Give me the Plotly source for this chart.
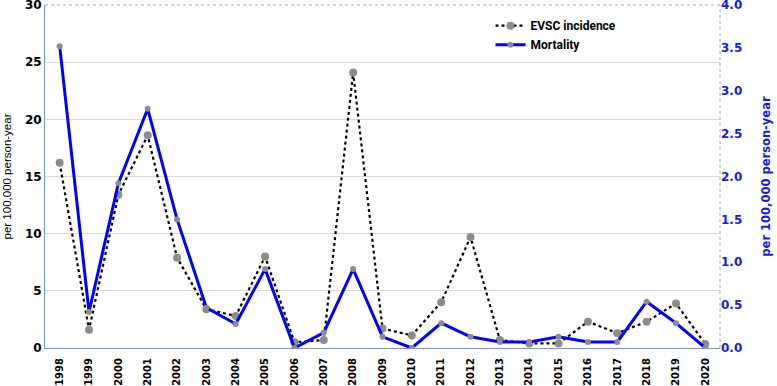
import plotly.graph_objects as go

years = [str(y) for y in range(1998, 2021)]
evsc_incidence = [16.2, 1.6, 13.4, 18.6, 7.9, 3.4, 2.8, 8.0, 0.5, 0.7, 24.1, 1.7, 1.1, 4.0,
                  9.7, 0.7, 0.4, 0.4, 2.3, 1.3, 2.3, 3.9, 0.35]
mortality = [3.52, 0.42, 1.92, 2.79, 1.50, 0.47, 0.28, 0.92, 0.0, 0.18, 0.92, 0.13, 0.0, 0.29,
             0.13, 0.07, 0.07, 0.13, 0.07, 0.07, 0.54, 0.29, 0.0]
left_ticks = [0, 5, 10, 15, 20, 25, 30]
right_ticks = [0.0, 0.5, 1.0, 1.5, 2.0, 2.5, 3.0, 3.5, 4.0]

fig = go.Figure()
fig.add_trace(go.Scatter(
    x=years, y=evsc_incidence, name="EVSC incidence", mode="lines+markers",
    line=dict(color="black", width=2.2, dash="dot"),
    marker=dict(color="#8C8C8C", size=8), yaxis="y"))
fig.add_trace(go.Scatter(
    x=years, y=mortality, name="Mortality", mode="lines+markers",
    line=dict(color="#0000FF", width=3),
    marker=dict(color="#8C8C8C", size=6), yaxis="y2"))

fig.update_layout(
    width=777, height=386,
    margin=dict(l=45, r=57, t=5, b=38),
    plot_bgcolor="white", paper_bgcolor="white",
    showlegend=True,
    legend=dict(x=0.66, y=0.982, xanchor="left", yanchor="top",
                bgcolor="rgba(255,255,255,0)", tracegroupgap=0,
                font=dict(family="Roboto", size=12, color="black", weight="bold"),
                itemwidth=30),
    xaxis=dict(type="category", tickangle=-90, range=[-0.5, 22.5], automargin=False,
               tickfont=dict(family="DejaVu Sans", size=10, color="black", weight="bold"),
               ticklabelstandoff=5,
               showgrid=False, showline=True, linecolor="#6F95DC", linewidth=1,
               ticks="", zeroline=False),
    yaxis=dict(range=[0, 30], tickvals=left_ticks, ticklabeloverflow="allow",
               automargin=False,
               tickfont=dict(family="DejaVu Sans", size=12, color="black", weight="bold"),
               showgrid=True, gridcolor="#D9D9D9", gridwidth=1,
               showline=True, linecolor="#6F95DC", linewidth=1, zeroline=False,
               title=dict(text="per 100,000 person-year", standoff=10,
                          font=dict(family="Liberation Sans", size=11.5, color="black"))),
    yaxis2=dict(range=[0, 4], tickvals=right_ticks, tickformat=".1f",
                ticklabeloverflow="allow", automargin=False,
                overlaying="y", side="right",
                tickfont=dict(family="DejaVu Sans", size=12, color="#1A1AE6", weight="bold"),
                showgrid=False, showline=False, zeroline=False,
                title=dict(text="per 100,000 person-year", standoff=20,
                           font=dict(family="DejaVu Sans", size=11.5, color="#1A1AE6",
                                     weight="bold"))),
    shapes=[
        dict(type="line", xref="paper", yref="paper", x0=0, x1=1, y0=1, y1=1,
             line=dict(color="#8FAADC", width=1, dash="dot")),
        dict(type="line", xref="paper", yref="paper", x0=1, x1=1, y0=0, y1=1,
             line=dict(color="#8FAADC", width=1, dash="dot")),
    ],
)

fig.write_html("out.html", config={"displayModeBar": False},
               post_script="document.body.style.margin='0';")
